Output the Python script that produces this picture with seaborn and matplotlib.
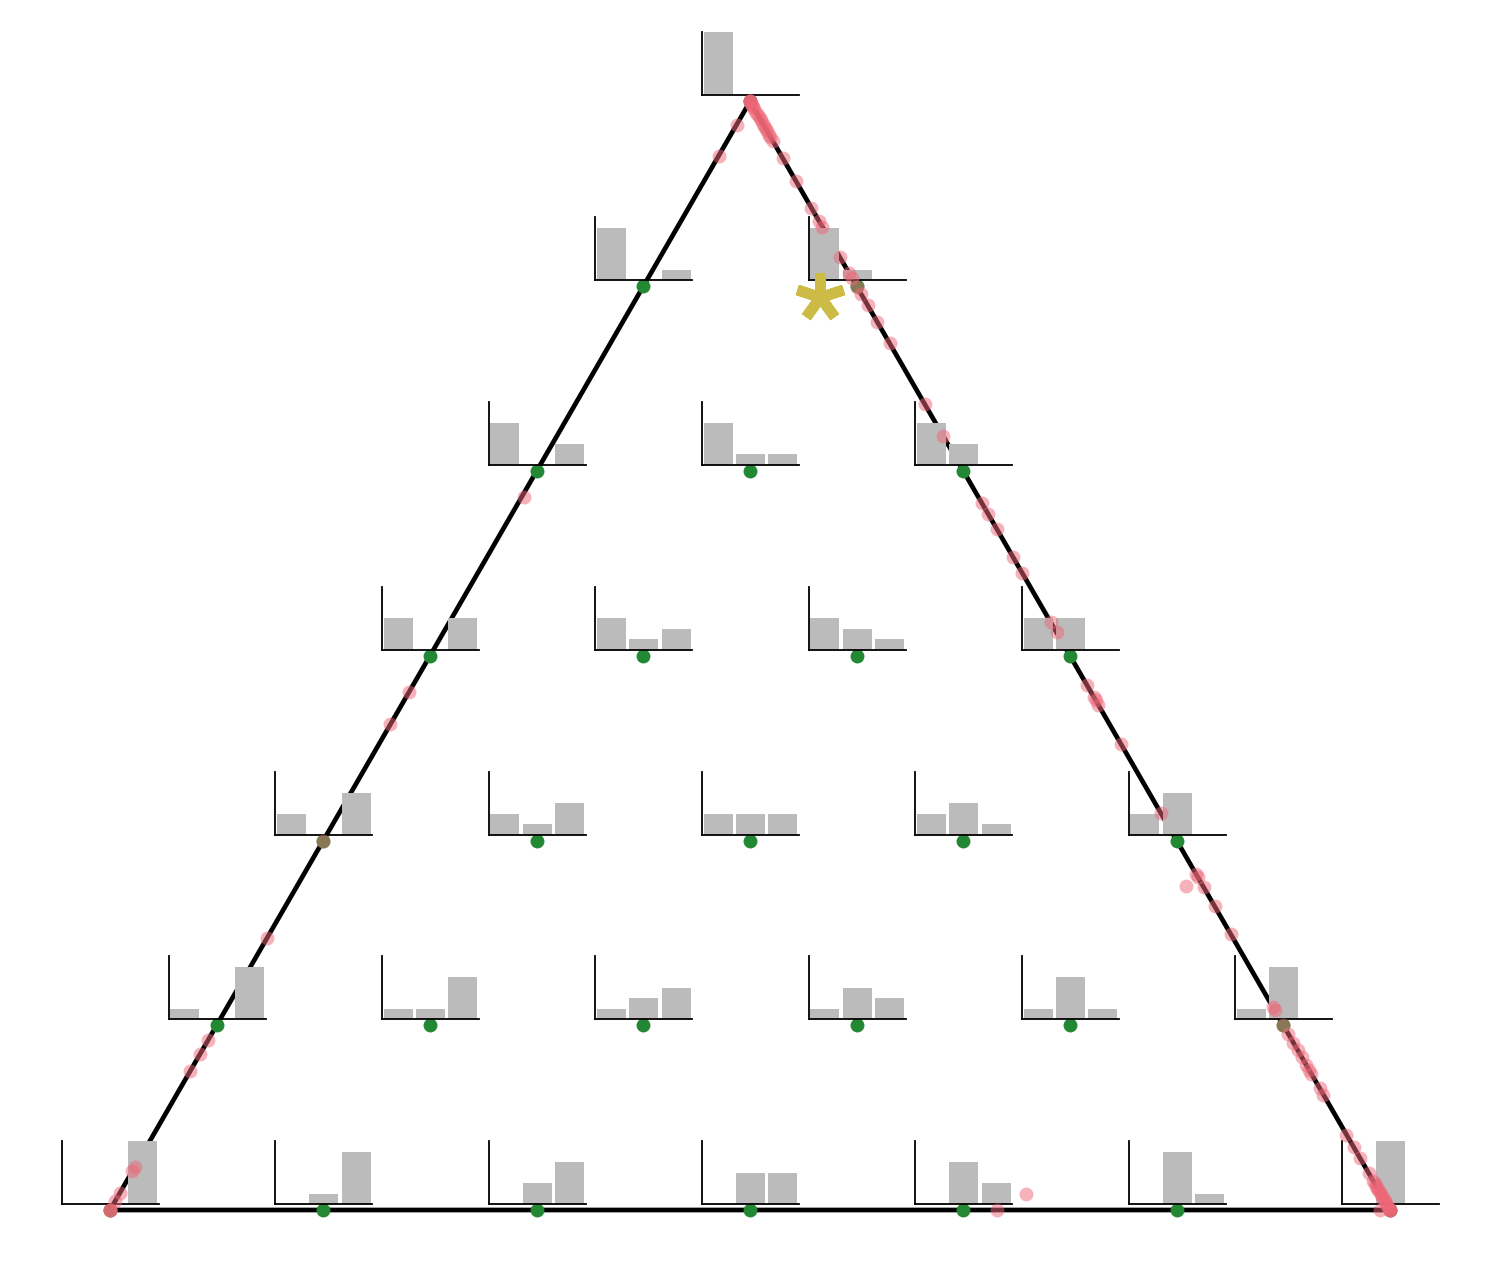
import numpy as np
import matplotlib
matplotlib.use('Agg')
import matplotlib.pyplot as plt
import seaborn as sns

# simplex lattice (numerators over 6) -> weight on top, right and left corner
grid_top   = [6, 5, 5, 4, 4, 4, 3, 3, 3, 3, 2, 2, 2, 2, 2, 1, 1, 1, 1, 1, 1, 0, 0, 0, 0, 0, 0, 0]
grid_right = [0, 0, 1, 0, 1, 2, 0, 1, 2, 3, 0, 1, 2, 3, 4, 0, 1, 2, 3, 4, 5, 0, 1, 2, 3, 4, 5, 6]
grid_left  = [0, 1, 0, 2, 1, 0, 3, 2, 1, 0, 4, 3, 2, 1, 0, 5, 4, 3, 2, 1, 0, 6, 5, 4, 3, 2, 1, 0]
bar_labels = ['top', 'right', 'left']

# sampled points (barycentric: top, right, left)
samp_top = [
    1.0, 1.0, 1.0, 1.0, 0.998, 0.997, 0.995, 0.993, 0.990, 0.988, 0.985,
    0.983, 0.980, 0.978, 0.975, 0.973, 0.970, 0.968, 0.964,
    0.949, 0.928, 0.904, 0.892, 0.887, 0.860, 0.845, 0.841, 0.833, 0.826,
    0.816, 0.801, 0.782, 0.727, 0.698, 0.638, 0.628, 0.614, 0.589, 0.575,
    0.530, 0.521, 0.474, 0.463, 0.460, 0.456, 0.420, 0.358, 0.303, 0.300,
    0.291, 0.274, 0.249, 0.183, 0.180, 0.167, 0.159, 0.151, 0.144, 0.138,
    0.131, 0.126, 0.123, 0.110, 0.104, 0.068, 0.057, 0.047, 0.033, 0.026,
    0.024, 0.022, 0.020, 0.018, 0.016, 0.014, 0.012, 0.010, 0.008, 0.006,
    0.004, 0.002, 0.001, 0.0, 0.0, 0.0,
    0.979, 0.951, 0.643, 0.467, 0.438, 0.333, 0.245, 0.153, 0.141, 0.125,
    0.039, 0.035, 0.015, 0.008, 0.0, 0.0, 0.0,
    0.292, 0.0, 0.0, 0.014,
]
samp_right = [
    0.0, 0.0, 0.0, 0.0, 0.002, 0.003, 0.005, 0.007, 0.010, 0.012, 0.015,
    0.017, 0.020, 0.022, 0.025, 0.027, 0.030, 0.032, 0.036,
    0.051, 0.072, 0.096, 0.108, 0.113, 0.140, 0.155, 0.159, 0.167, 0.174,
    0.184, 0.199, 0.218, 0.273, 0.302, 0.362, 0.372, 0.386, 0.411, 0.425,
    0.470, 0.479, 0.526, 0.537, 0.540, 0.544, 0.580, 0.642, 0.697, 0.700,
    0.709, 0.726, 0.751, 0.817, 0.820, 0.833, 0.841, 0.849, 0.856, 0.862,
    0.869, 0.874, 0.877, 0.890, 0.896, 0.932, 0.943, 0.953, 0.967, 0.974,
    0.976, 0.978, 0.980, 0.982, 0.984, 0.986, 0.988, 0.990, 0.992, 0.994,
    0.996, 0.998, 0.999, 1.0, 1.0, 1.0,
    0.0, 0.0, 0.002, 0.0, 0.0, 0.0, 0.0, 0.0, 0.0, 0.0,
    0.0, 0.0, 0.0, 0.0, 0.0, 0.0, 0.0,
    0.695, 0.992, 0.693, 0.709,
]
samp_left = [
    0.0, 0.0, 0.0, 0.0, 0.0, 0.0, 0.0, 0.0, 0.0, 0.0, 0.0,
    0.0, 0.0, 0.0, 0.0, 0.0, 0.0, 0.0, 0.0,
    0.0, 0.0, 0.0, 0.0, 0.0, 0.0, 0.0, 0.0, 0.0, 0.0,
    0.0, 0.0, 0.0, 0.0, 0.0, 0.0, 0.0, 0.0, 0.0, 0.0,
    0.0, 0.0, 0.0, 0.0, 0.0, 0.0, 0.0, 0.0, 0.0, 0.0,
    0.0, 0.0, 0.0, 0.0, 0.0, 0.0, 0.0, 0.0, 0.0, 0.0,
    0.0, 0.0, 0.0, 0.0, 0.0, 0.0, 0.0, 0.0, 0.0, 0.0,
    0.0, 0.0, 0.0, 0.0, 0.0, 0.0, 0.0, 0.0, 0.0, 0.0,
    0.0, 0.0, 0.0, 0.0, 0.0, 0.0,
    0.021, 0.049, 0.355, 0.533, 0.562, 0.667, 0.755, 0.847, 0.859, 0.875,
    0.961, 0.965, 0.985, 0.992, 1.0, 1.0, 1.0,
    0.013, 0.008, 0.307, 0.277,
]

# the highlighted distribution
star_top, star_right, star_left = [0.824], [0.143], [0.033]

GREEN = '#228833'
RED = '#EE6677'
YELLOW = '#CCBB44'
GREY = '#BBBBBB'

SQ3 = np.sqrt(3) / 2


def to_xy(top, right, left):
    top = np.asarray(top, float)
    right = np.asarray(right, float)
    tot = top + right + np.asarray(left, float)
    top, right = top / tot, right / tot
    return right + top / 2, top * SQ3


sns.set_theme(style='white')
plt.rcParams['font.family'] = ['DejaVu Sans']

W, H = 1500, 1275
fig = plt.figure(figsize=(W / 100, H / 100), dpi=100)
fig.patch.set_facecolor('white')
rect = [110 / W, 65 / H, 1280 / W, 1108.5 / H]

ax = fig.add_axes(rect)
ax.set_xlim(0, 1)
ax.set_ylim(0, SQ3)
ax.axis('off')

# triangle outline through the three corners
cx, cy = to_xy([1, 0, 0, 1], [0, 1, 0, 0], [0, 0, 1, 0])
ax.plot(cx, cy, color='black', lw=3.4, clip_on=False, solid_joinstyle='miter')

gx, gy = to_xy(grid_top, grid_right, grid_left)
sns.scatterplot(x=gx, y=gy, color=GREEN, s=100, linewidth=0, ax=ax,
                clip_on=False, zorder=3)

# small bar chart above every lattice point
fig.canvas.draw()
for i in range(len(grid_top)):
    px, py = ax.transData.transform((gx[i], gy[i]))
    iax = fig.add_axes([(px - 48) / W, (py + 6) / H, 97 / W, 63 / H])
    vals = [grid_top[i] / 6, grid_right[i] / 6, grid_left[i] / 6]
    sns.barplot(x=bar_labels, y=vals, color=GREY, width=0.9, saturation=1,
                linewidth=0, ax=iax)
    iax.set_xlim(-0.5, 2.5)
    iax.set_ylim(0, 1)
    iax.set(xlabel='', ylabel='')
    iax.set_yticks([])
    iax.set_xticks([-0.45, 2.45])
    iax.tick_params(axis='x', length=2.5, width=1, labelbottom=False,
                    direction='out', color='black')
    sns.despine(ax=iax)
    for s in ['left', 'bottom']:
        iax.spines[s].set_linewidth(1.3)
        iax.spines[s].set_color('black')
    iax.patch.set_alpha(0)

# samples and the star on top of everything
ov = fig.add_axes(rect)
ov.set_xlim(0, 1)
ov.set_ylim(0, SQ3)
ov.axis('off')
ov.patch.set_alpha(0)

sx, sy = to_xy(samp_top, samp_right, samp_left)
sns.scatterplot(x=sx, y=sy, color=RED, alpha=0.5, s=100, linewidth=0, ax=ov,
                clip_on=False)

tx, ty = to_xy(star_top, star_right, star_left)
ov.plot(tx, ty, marker=(5, 2, 0), ms=35, mew=7.7, color=YELLOW, ls='none',
        clip_on=False)

fig.savefig('out.png', dpi=100, facecolor='white')
